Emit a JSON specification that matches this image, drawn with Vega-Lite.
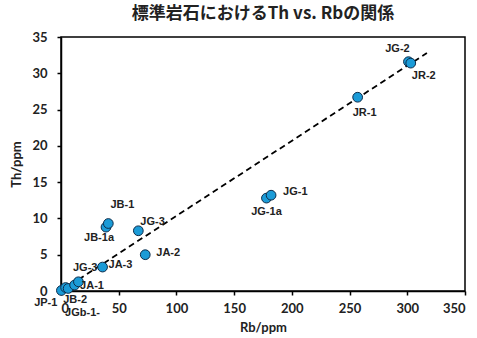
{
  "$schema": "https://vega.github.io/schema/vega-lite/v6.json",
  "width": 404,
  "height": 254,
  "autosize": {"type": "none"},
  "padding": {"left": 61, "top": 37, "right": 12, "bottom": 47},
  "background": "white",
  "title": {
    "text": "標準岩石におけるTh vs. Rbの関係",
    "font": "Noto Sans CJK JP",
    "fontSize": 17,
    "fontWeight": "bold",
    "color": "#222222",
    "anchor": "middle",
    "offset": 8
  },
  "config": {
    "view": {"stroke": "black", "strokeWidth": 1.5},
    "axis": {
      "grid": false,
      "domainColor": "black",
      "domainWidth": 1.5,
      "tickColor": "black",
      "tickWidth": 1.5,
      "tickSize": 4,
      "labelFont": "Lato",
      "labelFontWeight": "bold",
      "labelFontSize": 13,
      "labelColor": "#222222",
      "titleFont": "Lato",
      "titleFontWeight": "bold",
      "titleFontSize": 13,
      "titleColor": "#222222"
    }
  },
  "data": {
    "values": [
      {"sample": "JP-1", "label": "JP-1", "Rb": 0.34, "Th": 0.07},
      {"sample": "JGb-1", "label": "JGb-1-", "Rb": 4.0, "Th": 0.48},
      {"sample": "JB-2", "label": "JB-2", "Rb": 6.2, "Th": 0.35},
      {"sample": "JA-1", "label": "JA-1", "Rb": 11.8, "Th": 0.82},
      {"sample": "JB-3", "label": "JG-3", "Rb": 15.1, "Th": 1.27},
      {"sample": "JA-3", "label": "JA-3", "Rb": 36, "Th": 3.3},
      {"sample": "JB-1a", "label": "JB-1a", "Rb": 39, "Th": 8.8},
      {"sample": "JB-1", "label": "JB-1", "Rb": 41, "Th": 9.3},
      {"sample": "JG-3", "label": "JG-3", "Rb": 67, "Th": 8.3},
      {"sample": "JA-2", "label": "JA-2", "Rb": 73, "Th": 5.0},
      {"sample": "JG-1a", "label": "JG-1a", "Rb": 178, "Th": 12.8},
      {"sample": "JG-1", "label": "JG-1", "Rb": 182, "Th": 13.2},
      {"sample": "JR-1", "label": "JR-1", "Rb": 257, "Th": 26.7},
      {"sample": "JG-2", "label": "JG-2", "Rb": 301, "Th": 31.6},
      {"sample": "JR-2", "label": "JR-2", "Rb": 303, "Th": 31.4}
    ]
  },
  "encoding": {
    "x": {
      "field": "Rb", "type": "quantitative",
      "scale": {"domain": [0, 350], "nice": false},
      "axis": {"values": [0, 50, 100, 150, 200, 250, 300, 350], "title": "Rb/ppm", "labelPadding": 7, "titlePadding": 6}
    },
    "y": {
      "field": "Th", "type": "quantitative",
      "scale": {"domain": [0, 35], "nice": false},
      "axis": {"values": [0, 5, 10, 15, 20, 25, 30, 35], "title": "Th/ppm", "labelPadding": 10, "titlePadding": 8}
    }
  },
  "layer": [
    {
      "data": {"values": [{"Rb": 8, "Th": 0.83}, {"Rb": 317, "Th": 32.8}]},
      "mark": {"type": "line", "color": "black", "strokeWidth": 1.8, "strokeDash": [6, 4]},
      "encoding": {}
    },
    {
      "mark": {"type": "point", "shape": "circle", "filled": true, "size": 95, "fill": "#1B9BD7", "stroke": "#0d2c4a", "strokeWidth": 1, "opacity": 1}
    },
    {
      "transform": [{"filter": "datum.sample === 'JG-2'"}],
      "mark": {"type": "text", "font": "Liberation Sans", "fontWeight": "bold", "fontSize": 11, "color": "#222222", "baseline": "middle", "align": "center", "dx": -11, "dy": -13},
      "encoding": {"text": {"field": "label"}}
    },
    {
      "transform": [{"filter": "datum.sample === 'JR-2'"}],
      "mark": {"type": "text", "font": "Liberation Sans", "fontWeight": "bold", "fontSize": 11, "color": "#222222", "baseline": "middle", "align": "center", "dx": 13, "dy": 13},
      "encoding": {"text": {"field": "label"}}
    },
    {
      "transform": [{"filter": "datum.sample === 'JR-1'"}],
      "mark": {"type": "text", "font": "Liberation Sans", "fontWeight": "bold", "fontSize": 11, "color": "#222222", "baseline": "middle", "align": "center", "dx": 7, "dy": 16},
      "encoding": {"text": {"field": "label"}}
    },
    {
      "transform": [{"filter": "datum.sample === 'JG-1'"}],
      "mark": {"type": "text", "font": "Liberation Sans", "fontWeight": "bold", "fontSize": 11, "color": "#222222", "baseline": "middle", "align": "left", "dx": 12, "dy": -3},
      "encoding": {"text": {"field": "label"}}
    },
    {
      "transform": [{"filter": "datum.sample === 'JG-1a'"}],
      "mark": {"type": "text", "font": "Liberation Sans", "fontWeight": "bold", "fontSize": 11, "color": "#222222", "baseline": "middle", "align": "center", "dx": 0, "dy": 14},
      "encoding": {"text": {"field": "label"}}
    },
    {
      "transform": [{"filter": "datum.sample === 'JB-1'"}],
      "mark": {"type": "text", "font": "Liberation Sans", "fontWeight": "bold", "fontSize": 11, "color": "#222222", "baseline": "middle", "align": "center", "dx": 14, "dy": -19},
      "encoding": {"text": {"field": "label"}}
    },
    {
      "transform": [{"filter": "datum.sample === 'JB-1a'"}],
      "mark": {"type": "text", "font": "Liberation Sans", "fontWeight": "bold", "fontSize": 11, "color": "#222222", "baseline": "middle", "align": "center", "dx": -7, "dy": 11},
      "encoding": {"text": {"field": "label"}}
    },
    {
      "transform": [{"filter": "datum.sample === 'JG-3'"}],
      "mark": {"type": "text", "font": "Liberation Sans", "fontWeight": "bold", "fontSize": 11, "color": "#222222", "baseline": "middle", "align": "left", "dx": 2, "dy": -9},
      "encoding": {"text": {"field": "label"}}
    },
    {
      "transform": [{"filter": "datum.sample === 'JA-2'"}],
      "mark": {"type": "text", "font": "Liberation Sans", "fontWeight": "bold", "fontSize": 11, "color": "#222222", "baseline": "middle", "align": "left", "dx": 11, "dy": -2},
      "encoding": {"text": {"field": "label"}}
    },
    {
      "transform": [{"filter": "datum.sample === 'JA-3'"}],
      "mark": {"type": "text", "font": "Liberation Sans", "fontWeight": "bold", "fontSize": 11, "color": "#222222", "baseline": "middle", "align": "left", "dx": 6, "dy": -2},
      "encoding": {"text": {"field": "label"}}
    },
    {
      "transform": [{"filter": "datum.sample === 'JB-3'"}],
      "mark": {"type": "text", "font": "Liberation Sans", "fontWeight": "bold", "fontSize": 11, "color": "#222222", "baseline": "middle", "align": "right", "dx": 19, "dy": -14},
      "encoding": {"text": {"field": "label"}}
    },
    {
      "transform": [{"filter": "datum.sample === 'JP-1'"}],
      "mark": {"type": "text", "font": "Liberation Sans", "fontWeight": "bold", "fontSize": 11, "color": "#222222", "baseline": "middle", "align": "right", "dx": -4, "dy": 12.5},
      "encoding": {"text": {"field": "label"}}
    },
    {
      "transform": [{"filter": "datum.sample === 'JB-2'"}],
      "mark": {"type": "text", "font": "Liberation Sans", "fontWeight": "bold", "fontSize": 11, "color": "#222222", "baseline": "middle", "align": "left", "dx": -5, "dy": 12},
      "encoding": {"text": {"field": "label"}}
    },
    {
      "transform": [{"filter": "datum.sample === 'JGb-1'"}],
      "mark": {"type": "text", "font": "Liberation Sans", "fontWeight": "bold", "fontSize": 11, "color": "#222222", "baseline": "middle", "align": "left", "dx": -0.5, "dy": 25},
      "encoding": {"text": {"field": "label"}}
    },
    {
      "transform": [{"filter": "datum.sample === 'JA-1'"}],
      "mark": {"type": "text", "font": "Liberation Sans", "fontWeight": "bold", "fontSize": 11, "color": "#222222", "baseline": "middle", "align": "left", "dx": 5.5, "dy": 0.5},
      "encoding": {"text": {"field": "label"}}
    }
  ]
}
